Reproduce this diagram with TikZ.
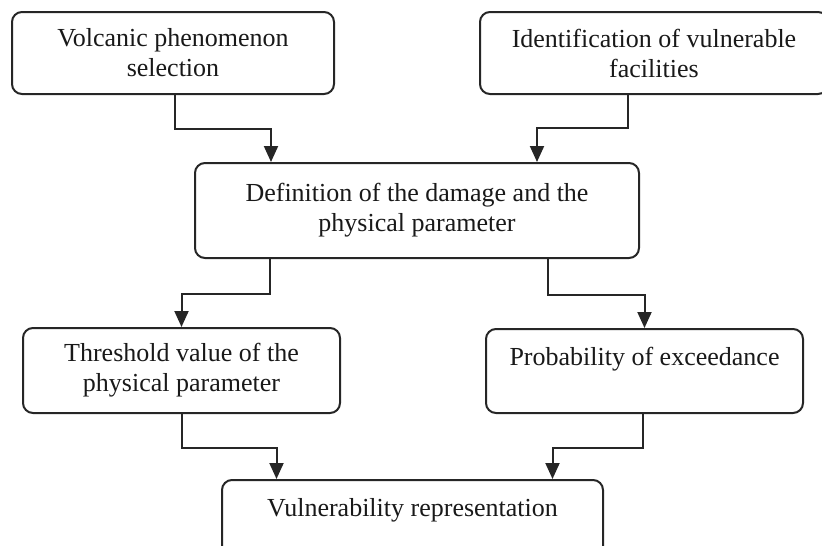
\documentclass[tikz,border=0pt]{standalone}
\usepackage{fontspec}
\setmainfont{Liberation Serif}
\usepackage{tikz}
\usetikzlibrary{positioning,arrows.meta}
\tikzset{stage/.style={rectangle, draw=black!85, line width=2pt, rounded corners=10pt, fill=white, align=center, text=black!90, font=\fontsize{26}{30}\selectfont, inner sep=0pt}}
\tikzset{arrow/.style={-{Triangle[length=16pt,width=14pt]}, line width=2pt, draw=black!85}}

\begin{document}
\begin{tikzpicture}
        \path[use as bounding box] (0,0) rectangle (822pt,-546pt);
        \clip (0,0) rectangle (822pt,-546pt);

        \node[stage, minimum width=322pt, minimum height=82pt] (volc) at (173pt,-53pt) {Volcanic phenomenon\\selection};
        \node[stage, minimum width=348pt, minimum height=82pt] (facil) at (654pt,-53pt) {Identification of vulnerable\\facilities};
        \node[stage, minimum width=444pt, minimum height=95pt] (damage) at (417pt,-210.5pt) {Definition of the damage and the\\physical parameter};
        \node[stage, minimum width=317pt, minimum height=85pt] (thresh) at (181.5pt,-370.5pt) {Threshold value of the\\physical parameter};
        \node[stage, minimum width=317pt, minimum height=84pt] (prob) at (644.5pt,-371pt) {Probability of exceedance\\\mbox{}};
        \node[stage, minimum width=381pt, minimum height=85pt] (vulrep) at (412.5pt,-522.5pt) {Vulnerability representation\\\mbox{}};

        \draw[arrow] ([xshift=2pt]volc.south) -- ++(0,-34pt) -| ([xshift=-146pt]damage.north);
        \draw[arrow] ([xshift=-26pt]facil.south) -- ++(0,-33pt) -| ([xshift=120pt]damage.north);
        \draw[arrow] ([xshift=-147pt]damage.south) -- ++(0,-35pt) -| (thresh.north);
        \draw[arrow] ([xshift=131pt]damage.south) -- ++(0,-36pt) -| (prob.north);
        \draw[arrow] (thresh.south) -- ++(0,-34pt) -| ([xshift=-136pt]vulrep.north);
        \draw[arrow] ([xshift=-2pt]prob.south) -- ++(0,-34pt) -| ([xshift=140pt]vulrep.north);
    \end{tikzpicture}
\end{document}
